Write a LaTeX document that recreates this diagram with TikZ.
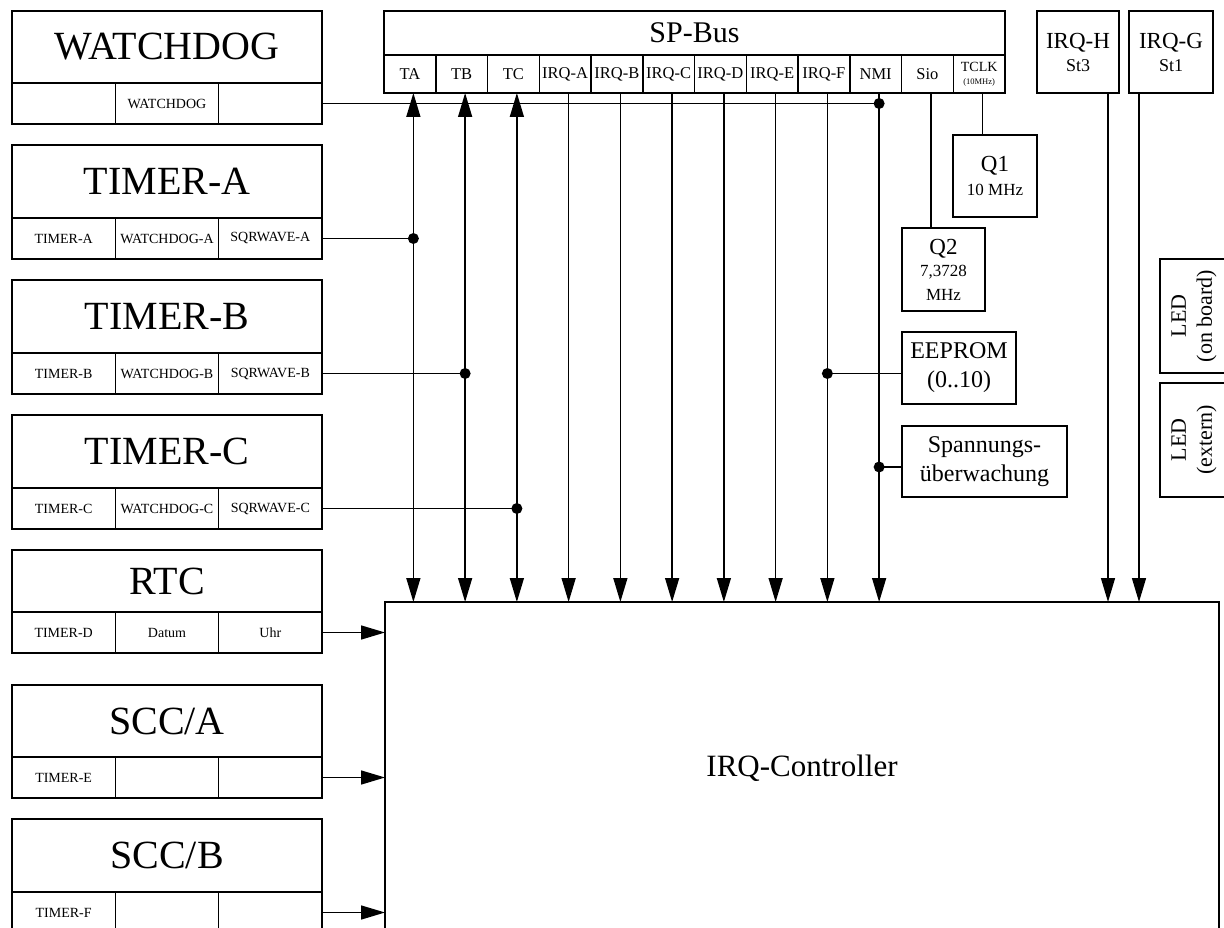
\documentclass[tikz,border=0pt]{standalone}
\usepackage{fontspec}
\setmainfont{Liberation Serif}
\usetikzlibrary{arrows.meta,calc}
\newcommand\lblock[7]{%
  \node[box, big, minimum width=310pt, minimum height=#3pt, anchor=north west] (#1) at (12,#2) {#4};
  \node[cell] (#1a) at (#1.south west) {#5};
  \node[cell] (#1b) at (#1a.north east) {#6};
  \node[cell] (#1c) at (#1b.north east) {#7};
}
\begin{document}
\begin{tikzpicture}[x=1pt,y=-1pt,
  box/.style={draw, line width=1.5pt, inner sep=0pt, outer sep=0pt, align=center},
  conn/.style={line width=1.5pt},
  arr/.style={conn,-{Triangle[length=24pt,width=14pt]}},
  darr/.style={conn,{Triangle[length=24pt,width=14pt]}-{Triangle[length=24pt,width=14pt]}},
  dot/.style={circle, fill=black, inner sep=0pt, minimum size=11pt},
  big/.style={font=\fontsize{40}{48}\selectfont},
  cell/.style={box, minimum width=103.33pt, minimum height=41pt, anchor=north west, font=\fontsize{14}{16}\selectfont},
  bus/.style={box, minimum width=51.75pt, minimum height=38pt, anchor=north west, font=\fontsize{16.5}{19}\selectfont},
  mid/.style={box, anchor=north west, font=\fontsize{24}{29}\selectfont},
]
\path[use as bounding box] (0,0) rectangle (1224,928);
\clip (0,0) rectangle (1224,928);

% left blocks
\lblock{wdg}{11}{72}{WATCHDOG}{}{WATCHDOG}{}
\lblock{tma}{145}{73}{TIMER-A}{TIMER-A}{WATCHDOG-A}{SQRWAVE-A}
\lblock{tmb}{280}{73}{TIMER-B}{TIMER-B}{WATCHDOG-B}{SQRWAVE-B}
\lblock{tmc}{415}{73}{TIMER-C}{TIMER-C}{WATCHDOG-C}{SQRWAVE-C}
\lblock{rtc}{550}{62}{RTC}{TIMER-D}{Datum}{Uhr}
\lblock{scca}{685}{72}{SCC/A}{TIMER-E}{}{}
\lblock{sccb}{819}{73}{SCC/B}{TIMER-F}{}{}

% SP-Bus
\node[box, minimum width=621pt, minimum height=44pt, anchor=north west, font=\fontsize{30}{36}\selectfont] (spbus) at (384,11) {SP-Bus};
\node[bus] (bTA) at (spbus.south west) {TA};
\node[bus] (bTB) at (bTA.north east) {TB};
\node[bus] (bTC) at (bTB.north east) {TC};
\node[bus] (bA) at (bTC.north east) {IRQ-A};
\node[bus] (bB) at (bA.north east) {IRQ-B};
\node[bus] (bC) at (bB.north east) {IRQ-C};
\node[bus] (bD) at (bC.north east) {IRQ-D};
\node[bus] (bE) at (bD.north east) {IRQ-E};
\node[bus] (bF) at (bE.north east) {IRQ-F};
\node[bus] (bNMI) at (bF.north east) {NMI};
\node[bus] (bSio) at (bNMI.north east) {Sio};
\node[bus, font=\fontsize{14}{15}\selectfont] (bTCLK) at (bSio.north east) {TCLK\\[-2pt]{\fontsize{8.5}{10}\selectfont (10MHz)}};

\foreach \n in {TA,TB,TC,A,B,C,D,E,F,NMI,Sio,TCLK}
  \coordinate (l\n) at ([xshift=3.5pt]b\n.south);

% right side boxes
\node[box, minimum width=82pt, minimum height=82pt, anchor=north west, font=\fontsize{23}{26}\selectfont] (irqh) at (1037,11) {IRQ-H\\[-3pt]{\fontsize{18}{20}\selectfont St3}};
\node[box, minimum width=84pt, minimum height=82pt, anchor=north west, font=\fontsize{23}{26}\selectfont] (irqg) at (1129,11) {IRQ-G\\[-3pt]{\fontsize{18}{20}\selectfont St1}};
\node[box, minimum width=84pt, minimum height=82pt, anchor=north west, font=\fontsize{23}{26}\selectfont] (q1) at (953,135) {Q1\\[-2pt]{\fontsize{17}{20}\selectfont 10 MHz}};
\node[box, minimum width=83pt, minimum height=83pt, anchor=north west, font=\fontsize{23}{26}\selectfont] (q2) at (902,228) {Q2\\[-4pt]{\fontsize{17}{20}\selectfont 7,3728}\\[-2pt]{\fontsize{17}{20}\selectfont MHz}};
\node[mid, minimum width=114pt, minimum height=72pt] (eeprom) at (902,332) {EEPROM\\(0..10)};
\node[mid, minimum width=165pt, minimum height=71pt] (spann) at (902,426) {Spannungs-\\überwachung};
\node[box, rotate=90, minimum width=114pt, minimum height=68pt, font=\fontsize{22}{26}\selectfont] (ledon) at (1194,316) {LED\\(on board)};
\node[box, rotate=90, minimum width=114pt, minimum height=68pt, font=\fontsize{22}{26}\selectfont] (ledex) at (1194,440) {LED\\(extern)};

% controller
\node[box, minimum width=834pt, minimum height=400pt, anchor=north west] (ctrl) at (385,602) {};
\node[anchor=base, font=\fontsize{31}{37}\selectfont] (ctrltxt) at (802,776) {IRQ-Controller};

% bus lines
\foreach \n in {TA,TB,TC}
  \draw[darr] (l\n) -- (l\n |- ctrl.north);
\foreach \n in {A,B,C,D,E,F,NMI}
  \draw[arr] (l\n) -- (l\n |- ctrl.north);
\draw[conn] (lSio) -- (lSio |- q2.north);
\draw[conn] (lTCLK) -- (lTCLK |- q1.north);
\draw[arr] ([xshift=30pt]irqh.south) -- ([xshift=30pt]irqh.south |- ctrl.north);
\draw[arr] ([xshift=-32pt]irqg.south) -- ([xshift=-32pt]irqg.south |- ctrl.north);

% block connections
\draw[conn] (wdgc.east) -- (wdgc.east -| lNMI) node[dot] (d0) {};
\draw[conn] (tmac.east) -- (tmac.east -| lTA) node[dot] (d1) {};
\draw[conn] (tmbc.east) -- (tmbc.east -| lTB) node[dot] (d2) {};
\draw[conn] (tmcc.east) -- (tmcc.east -| lTC) node[dot] (d3) {};
\node[dot] (d4) at (lF |- tmbc.east) {};
\draw[conn] (d4.center) -- (d4.center -| eeprom.west);
\coordinate (yS) at (0,467);
\node[dot] (d5) at (lNMI |- yS) {};
\draw[conn] (d5.center) -- (d5.center -| spann.west);
\draw[arr] (rtcc.east) -- (rtcc.east -| ctrl.west);
\draw[arr] (sccac.east) -- (sccac.east -| ctrl.west);
\draw[arr] (sccbc.east) -- (sccbc.east -| ctrl.west);
\end{tikzpicture}
\end{document}
